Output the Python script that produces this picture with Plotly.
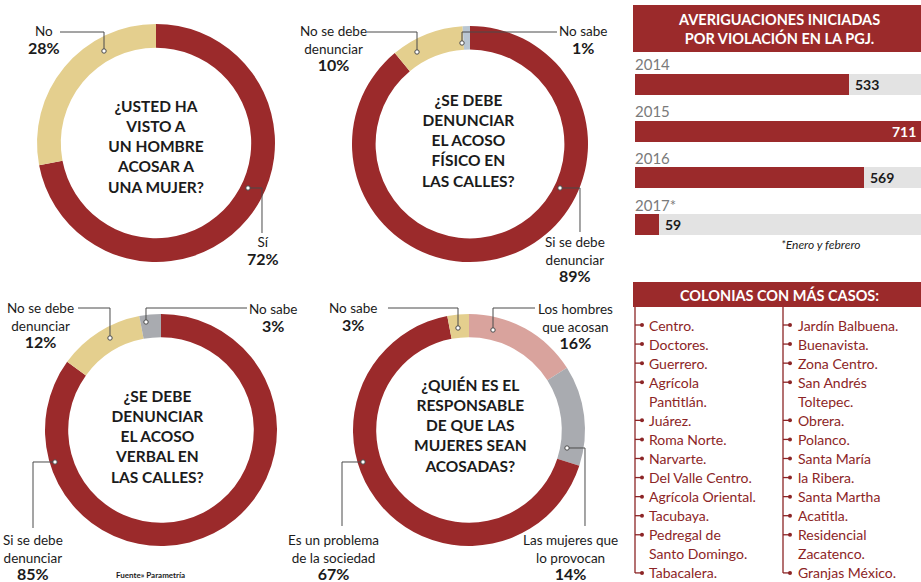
import plotly.graph_objects as go

W, H = 921, 582

# ---------------- data ----------------
q1_labels = ["Sí", "No"]
q1_values = [72, 28]

q2_labels = ["Si se debe denunciar", "No se debe denunciar", "No sabe"]
q2_values = [89, 10, 1]

q3_labels = ["Si se debe denunciar", "No se debe denunciar", "No sabe"]
q3_values = [85, 12, 3]

q4_labels = ["Los hombres que acosan", "Las mujeres que lo provocan",
             "Es un problema de la sociedad", "No sabe"]
q4_values = [16, 14, 67, 3]

years = ["2014", "2015", "2016", "2017*"]
cases = [533, 711, 569, 59]

colonias_left = ["Centro.", "Doctores.", "Guerrero.", "Agrícola\nPantitlán.", "Juárez.",
                 "Roma Norte.", "Narvarte.", "Del Valle Centro.", "Agrícola Oriental.",
                 "Tacubaya.", "Pedregal de\nSanto Domingo.", "Tabacalera."]
colonias_right = ["Jardín Balbuena.", "Buenavista.", "Zona Centro.", "San Andrés\nToltepec.",
                  "Obrera.", "Polanco.", "Santa María", "la Ribera.", "Santa Martha",
                  "Acatitla.", "Residencial\nZacatenco.", "Granjas México."]

# ---------------- style ----------------
RED = "#9b2a2b"
BEIGE = "#e4cf8e"
GRAY = "#a9abb0"
PINK = "#d9a39d"
LBLUE = "#b9c6d2"
TRACK = "#e3e3e3"
LINE = "#4a4a4a"
TXT_RED = "#8c2526"
FONT = "Lato"


def X(px):
    return px / W


def Y(py):
    return 1 - py / H


fig = go.Figure()


def donut(values, labels, colors, cx, cy, r):
    fig.add_trace(go.Pie(
        values=values, labels=labels, hole=0.8, sort=False,
        direction="clockwise", rotation=0,
        marker=dict(colors=colors, line=dict(width=0)),
        textinfo="none", hoverinfo="label+percent", showlegend=False,
        domain=dict(x=[X(cx - r), X(cx + r)], y=[Y(cy + r), Y(cy - r)]),
    ))


donut(q1_values, q1_labels, [RED, BEIGE], 156, 143, 119)
donut(q2_values, q2_labels, [RED, BEIGE, LBLUE], 470, 144, 118)
donut(q3_values, q3_labels, [RED, BEIGE, GRAY], 161, 430, 116)
donut(q4_values, q4_labels, [PINK, GRAY, RED, BEIGE], 469, 430, 116)

# ---------------- bar chart ----------------
idx = list(range(len(years)))
maxv = max(cases)
fig.add_trace(go.Bar(x=[maxv] * len(cases), y=idx, orientation="h", width=0.45,
                     marker=dict(color=TRACK, line=dict(width=0)),
                     hoverinfo="skip", showlegend=False))
fig.add_trace(go.Bar(x=cases, y=idx, orientation="h", width=0.45,
                     marker=dict(color=RED, line=dict(width=0)),
                     customdata=years, hovertemplate="%{customdata}: %{x}<extra></extra>",
                     showlegend=False))

annotations = []
shapes = []


def ann(px, py, text, size, color="#1b1b1b", xanchor="center", yanchor="middle", **kw):
    d = dict(x=X(px), y=Y(py), xref="paper", yref="paper", text=text, showarrow=False,
             xanchor=xanchor, yanchor=yanchor, align=kw.pop("align", "center"),
             font=dict(family=FONT, size=size, color=color))
    d.update(kw)
    annotations.append(d)


for i, (yr, v) in enumerate(zip(years, cases)):
    annotations.append(dict(x=X(633), xref="paper", xanchor="left", y=i, yref="y",
                            yanchor="middle", yshift=20, text=yr, showarrow=False,
                            font=dict(family=FONT, size=15, color="#7a7a7a")))
    if v == maxv:
        annotations.append(dict(x=v, xref="x", xanchor="right", xshift=-3, y=i, yref="y",
                                yanchor="middle", text="<b>%d</b>" % v, showarrow=False,
                                font=dict(family=FONT, size=14, color="white")))
    else:
        annotations.append(dict(x=v, xref="x", xanchor="left", xshift=4, y=i, yref="y",
                                yanchor="middle", text="<b>%d</b>" % v, showarrow=False,
                                font=dict(family=FONT, size=14, color="#1a1a1a")))

ann(779, 244, "<i>*Enero y febrero</i>", 12, "#222", xanchor="left")

# header boxes
shapes.append(dict(type="rect", xref="paper", yref="paper", x0=X(633), x1=1, y0=Y(52), y1=Y(5),
                   fillcolor=RED, line=dict(width=0), layer="below"))
ann(779, 29, "<b>AVERIGUACIONES INICIADAS<br>POR VIOLACIÓN EN LA PGJ.</b>", 14.5, "white")
shapes.append(dict(type="rect", xref="paper", yref="paper", x0=X(633), x1=1, y0=Y(307), y1=Y(282),
                   fillcolor=RED, line=dict(width=0), layer="below"))
ann(779, 295, "<b>COLONIAS CON MÁS CASOS:</b>", 14.5, "white")

# colonias lists


def colonias(items, xline, xtext):
    row = 0
    y0 = 325
    step = 19.07
    last_y = y0
    for it in items:
        parts = it.split("\n")
        for k, p in enumerate(parts):
            yy = y0 + row * step
            ann(xtext, yy, p, 14, TXT_RED, xanchor="left")
            if k == 0:
                shapes.append(dict(type="line", xref="paper", yref="paper", x0=X(xline),
                                   x1=X(xline + 6), y0=Y(yy), y1=Y(yy),
                                   line=dict(color=TXT_RED, width=1.3)))
                shapes.append(dict(type="circle", xref="paper", yref="paper",
                                   xsizemode="pixel", ysizemode="pixel",
                                   xanchor=X(xline + 7), yanchor=Y(yy),
                                   x0=-2, x1=2, y0=-2, y1=2,
                                   fillcolor=TXT_RED, line=dict(width=0)))
                last_y = yy
            row += 1
    shapes.append(dict(type="line", xref="paper", yref="paper", x0=X(xline), x1=X(xline),
                       y0=Y(307), y1=Y(last_y), line=dict(color=TXT_RED, width=1.3)))


colonias(colonias_left, 635, 647)
colonias(colonias_right, 783, 796)

# ---------------- donut center texts ----------------
centers = [
    (156, 146, "¿USTED HA<br>VISTO A<br>UN HOMBRE<br>ACOSAR A<br>UNA MUJER?"),
    (468, 140, "¿SE DEBE<br>DENUNCIAR<br>EL ACOSO<br>FÍSICO EN<br>LAS CALLES?"),
    (157, 436, "¿SE DEBE<br>DENUNCIAR<br>EL ACOSO<br>VERBAL EN<br>LAS CALLES?"),
    (470, 425, "¿QUIÉN ES EL<br>RESPONSABLE<br>DE QUE LAS<br>MUJERES SEAN<br>ACOSADAS?"),
]
for cx, cy, t in centers:
    ann(cx, cy, "<b>%s</b>" % t, 15.5)


def pct(s):
    return "<span style='font-size:16px'><b>%s</b></span>" % s


# ---------------- donut labels ----------------
labels = [
    (44, 40, "No<br>" + pct("28%")),
    (263, 251, "Sí<br>" + pct("72%")),
    (333, 48, "No se debe<br>denunciar<br>" + pct("10%")),
    (583, 40, "No sabe<br>" + pct("1%")),
    (575, 259, "Si se debe<br>denunciar<br>" + pct("89%")),
    (40, 325, "No se debe<br>denunciar<br>" + pct("12%")),
    (273, 318, "No sabe<br>" + pct("3%")),
    (33, 557, "Si se debe<br>denunciar<br>" + pct("85%")),
    (353, 317, "No sabe<br>" + pct("3%")),
    (575, 326, "Los hombres<br>que acosan<br>" + pct("16%")),
    (333, 557, "Es un problema<br>de la sociedad<br>" + pct("67%")),
    (570, 557, "Las mujeres que<br>lo provocan<br>" + pct("14%")),
]
for cx, cy, t in labels:
    ann(cx, cy, t, 13.5)

ann(150, 575, "<b>Fuente» Parametría</b>", 8)

# leader lines: list of points, the last one gets a dot
leaders = [
    [(60, 32), (104, 32), (104, 51)],
    [(262, 233), (262, 188), (248, 188)],
    [(367, 32), (417, 32), (417, 52)],
    [(557, 32), (462, 32), (462, 43)],
    [(580, 232), (580, 188), (560, 188)],
    [(78, 308), (110, 308), (110, 338)],
    [(247, 308), (146, 308), (146, 322)],
    [(33, 528), (33, 462), (55, 462)],
    [(388, 308), (458, 308), (458, 328)],
    [(535, 308), (493, 308), (493, 330)],
    [(342, 526), (342, 462), (363, 462)],
    [(585, 526), (585, 448), (567, 448)],
]
for pts in leaders:
    path = "M %f %f " % (X(pts[0][0]), Y(pts[0][1]))
    path += " ".join("L %f %f" % (X(px), Y(py)) for px, py in pts[1:])
    shapes.append(dict(type="path", xref="paper", yref="paper", path=path,
                       line=dict(color=LINE, width=1), layer="above"))
    ex, ey = pts[-1]
    shapes.append(dict(type="circle", xref="paper", yref="paper",
                       xsizemode="pixel", ysizemode="pixel", xanchor=X(ex), yanchor=Y(ey),
                       x0=-2.2, x1=2.2, y0=-2.2, y1=2.2,
                       fillcolor="white", line=dict(color=LINE, width=1), layer="above"))

fig.update_layout(
    width=W, height=H,
    margin=dict(l=0, r=0, t=0, b=0, pad=0),
    paper_bgcolor="white", plot_bgcolor="rgba(0,0,0,0)",
    barmode="overlay", bargap=0,
    xaxis=dict(domain=[X(635), 1], range=[0, maxv], visible=False, fixedrange=True),
    yaxis=dict(domain=[Y(248), Y(61)], range=[len(years) - 0.5, -0.5], visible=False,
               fixedrange=True),
    annotations=annotations,
    shapes=shapes,
    font=dict(family=FONT),
)

fig.write_html("out.html", config={"displayModeBar": False},
               post_script="document.body.style.margin='0';document.body.style.overflow='hidden';")
